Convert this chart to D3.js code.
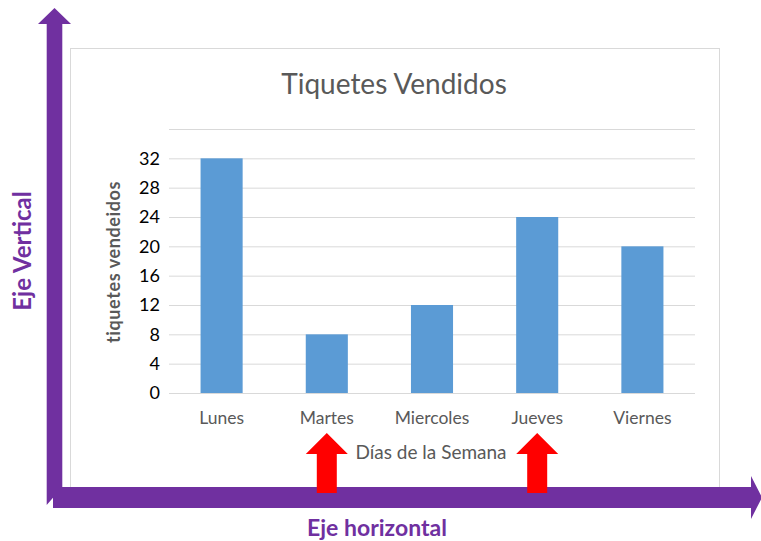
<html>
<head>
<title>Tiquetes Vendidos</title>
<script src="https://d3js.org/d3.v7.min.js"></script>
<style>
  body { margin: 0; background: #fff; }
  text { font-family: Lato, "Open Sans", sans-serif; }
  .grid line { stroke: #d9d9d9; stroke-width: 1; }
  .grid path { display: none; }
</style>
</head>
<body>
<svg id="chart_svg" width="761" height="541"></svg>

<script>
// data
var dias = ["Lunes", "Martes", "Miercoles", "Jueves", "Viernes"];
var tiquetes = [32, 8, 12, 24, 20];
var gridValues = [0, 4, 8, 12, 16, 20, 24, 28, 32, 36];
var tickLabels = [0, 4, 8, 12, 16, 20, 24, 28, 32];
// the red arrows point at these days
var marcados = ["Martes", "Jueves"];

var svg = d3.select("#chart_svg");
var purple = "#7030a0";

// chart area box
svg.append("rect")
  .attr("x", 70.5).attr("y", 48.5)
  .attr("width", 649).attr("height", 450)
  .attr("fill", "#fff")
  .attr("stroke", "#d9d9d9");

var plotLeft = 169, plotRight = 695, plotTop = 129, plotBottom = 393;

var x = d3.scaleBand().domain(dias).range([plotLeft, plotRight]).paddingInner(0.6).paddingOuter(0.3);
var y = d3.scaleLinear().domain([0, 36]).range([plotBottom, plotTop]);

// gridlines
svg.append("g")
  .attr("class", "grid")
  .attr("transform", "translate(" + plotLeft + ",0)")
  .call(d3.axisLeft(y).tickValues(gridValues).tickSize(-(plotRight - plotLeft)).tickFormat(""));

// y tick labels
svg.append("g").selectAll("text")
  .data(tickLabels)
  .enter().append("text")
  .attr("x", 160)
  .attr("y", function (d) { return y(d); })
  .attr("dy", "0.36em")
  .attr("text-anchor", "end")
  .attr("font-size", 18)
  .attr("fill", "#000")
  .text(function (d) { return d; });

// bars
svg.selectAll("rect.bar")
  .data(dias)
  .enter().append("rect")
  .attr("class", "bar")
  .attr("x", function (d) { return x(d); })
  .attr("width", x.bandwidth())
  .attr("y", function (d, i) { return y(tiquetes[i]); })
  .attr("height", function (d, i) { return y(0) - y(tiquetes[i]); })
  .attr("fill", "#5b9bd5");

// x labels
svg.append("g").selectAll("text")
  .data(dias)
  .enter().append("text")
  .attr("x", function (d) { return x(d) + x.bandwidth() / 2; })
  .attr("y", 424)
  .attr("text-anchor", "middle")
  .attr("font-size", 17.5)
  .attr("fill", "#595959")
  .text(function (d) { return d; });

// titles
svg.append("text")
  .attr("x", 394).attr("y", 94)
  .attr("text-anchor", "middle")
  .attr("font-size", 28)
  .attr("fill", "#595959")
  .text("Tiquetes Vendidos");

svg.append("text")
  .attr("transform", "translate(120,262) rotate(-90)")
  .attr("text-anchor", "middle")
  .attr("font-size", 18)
  .attr("font-weight", "bold")
  .attr("letter-spacing", 0.6)
  .attr("fill", "#595959")
  .text("tiquetes vendeidos");

svg.append("text")
  .attr("x", 431).attr("y", 459)
  .attr("text-anchor", "middle")
  .attr("font-size", 19)
  .attr("fill", "#595959")
  .text("Días de la Semana");

// purple axes arrows
svg.append("path")
  .attr("d", "M46.7,505 L46.7,24 L38,24 L54.5,8 L71,24 L62.3,24 L62.3,487 Z")
  .attr("fill", purple);
svg.append("path")
  .attr("d", "M53,487 L751,487 L751,476 L762,497.5 L751,519 L751,508 L53,508 Z")
  .attr("fill", purple);

// red arrows
marcados.forEach(function (d) {
  var cx = x(d) + x.bandwidth() / 2;
  svg.append("path")
    .attr("d", "M" + (cx - 10) + ",493 L" + (cx - 10) + ",454 L" + (cx - 21) + ",454 L" + cx + ",433 L" + (cx + 21) + ",454 L" + (cx + 10) + ",454 L" + (cx + 10) + ",493 Z")
    .attr("fill", "#ff0000");
});

svg.append("text")
  .attr("x", 377).attr("y", 536)
  .attr("text-anchor", "middle")
  .attr("font-size", 23)
  .attr("font-weight", "bold")
  .attr("fill", purple)
  .text("Eje horizontal");

svg.append("text")
  .attr("transform", "translate(31,251) rotate(-90)")
  .attr("text-anchor", "middle")
  .attr("font-size", 24)
  .attr("font-weight", "bold")
  .attr("fill", purple)
  .text("Eje Vertical");
</script>
</body>
</html>
